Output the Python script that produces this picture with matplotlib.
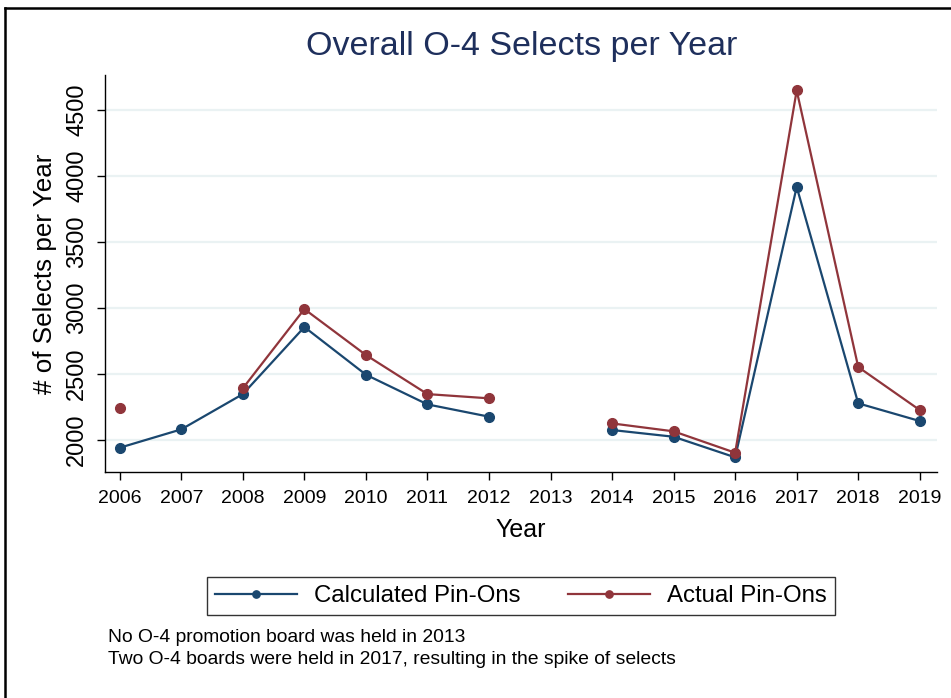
import numpy as np
import matplotlib.pyplot as plt
from matplotlib.lines import Line2D

plt.rcParams['font.family'] = ['Liberation Sans', 'DejaVu Sans']

years = [2006, 2007, 2008, 2009, 2010, 2011, 2012, 2013, 2014, 2015, 2016, 2017, 2018, 2019]
calculated = [1942, 2081, 2348, 2856, 2495, 2270, 2177, np.nan, 2076, 2025, 1869, 3917, 2278, 2144]
actual = [2245, np.nan, 2392, 2992, 2644, 2348, 2316, np.nan, 2126, 2066, 1904, 4648, 2553, 2227]
yticks = [2000, 2500, 3000, 3500, 4000, 4500]

notes = ["No O-4 promotion board was held in 2013",
         "Two O-4 boards were held in 2017, resulting in the spike of selects"]

navy = "#1a476f"
maroon = "#90353b"
title_col = "#1e2f5c"

fig = plt.figure(figsize=(9.51, 6.98), dpi=100)
ax = fig.add_axes([105/951, 1 - 472/698, (937-105)/951, (472-75)/698])

ax.plot(years, calculated, color=navy, marker="o", markersize=7, lw=1.6, label="Calculated Pin-Ons")
ax.plot(years, actual, color=maroon, marker="o", markersize=7, lw=1.6, label="Actual Pin-Ons")

ax.set_xlim(2005.76, 2019.28)
ax.set_ylim(1758, 4765)
ax.set_xticks(years)
ax.set_yticks(yticks)
ax.set_yticklabels([str(v) for v in yticks], rotation=90, va="center")
ax.tick_params(axis="both", length=6, width=1.0, color="black")
ax.tick_params(axis="x", labelsize=14, pad=7)
ax.tick_params(axis="y", labelsize=17, pad=6)
ax.grid(axis="y", color="#eaf2f3", lw=1.6)
ax.set_axisbelow(True)
for s in ["top", "right"]:
    ax.spines[s].set_visible(False)
for s in ["left", "bottom"]:
    ax.spines[s].set_linewidth(1.0)

ax.set_xlabel("Year", fontsize=18, labelpad=8)
ax.set_ylabel("# of Selects per Year", fontsize=18.7, labelpad=7)

fig.text(522/951, 1 - 47/698, "Overall O-4 Selects per Year", fontsize=24.5,
         color=title_col, ha="center", va="center")

leg = fig.legend(loc="center", bbox_to_anchor=(521/951, 1 - 596/698), ncol=2,
                 fontsize=17.3, frameon=True, fancybox=False, edgecolor="black",
                 handlelength=3.4, markerscale=0.75, columnspacing=2.0,
                 borderpad=0.35, handletextpad=0.7)
leg.get_frame().set_linewidth(1.0)

fig.text(108/951, 1 - 637/698, notes[0], fontsize=13.9, va="center", ha="left")
fig.text(108/951, 1 - 659/698, notes[1], fontsize=13.9, va="center", ha="left")

# outer frame seen on top and left
fig.add_artist(Line2D([5/951, 1], [1 - 7.5/698, 1 - 7.5/698], color="black", lw=1.8, transform=fig.transFigure))
fig.add_artist(Line2D([5/951, 5/951], [0, 1 - 7.5/698], color="black", lw=1.8, transform=fig.transFigure))

fig.savefig("out.png", dpi=100)
